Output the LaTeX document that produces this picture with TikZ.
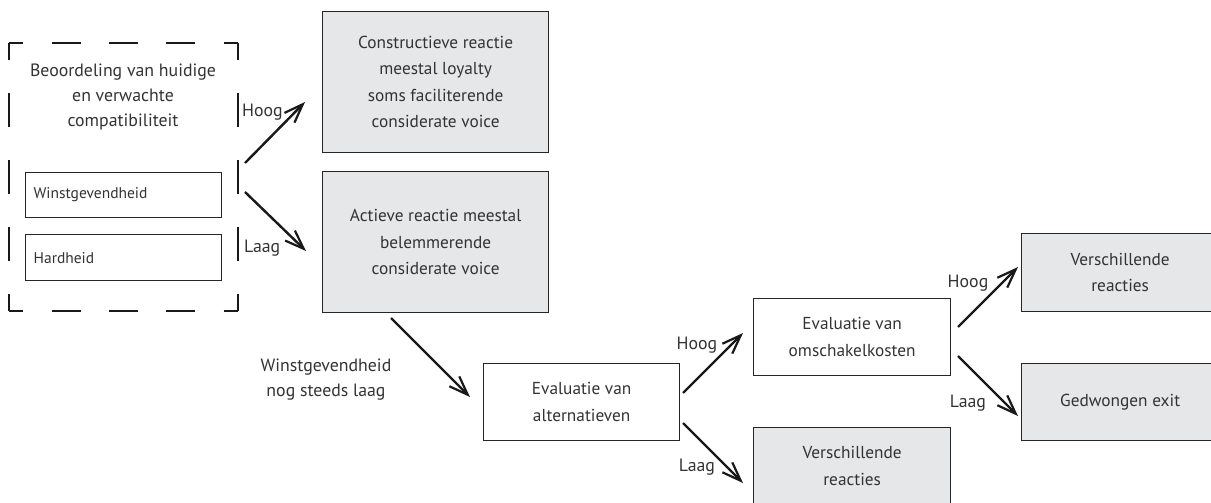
\documentclass[tikz,border=0pt]{standalone}
\usepackage{fontspec}
\setmainfont{PT Sans}
\usetikzlibrary{arrows.meta}
\definecolor{boxgray}{HTML}{E6E7E8}
\definecolor{txt}{HTML}{333333}
\tikzset{
  every node/.style={text=txt},
  base/.style={draw=black!85, line width=1.3pt, inner sep=0pt, anchor=north west, align=center,
     font=\fontsize{17.3}{26.5}\selectfont},
  graybox/.style={base, fill=boxgray},
  whitebox/.style={base, fill=white},
  smallbox/.style={draw=black!85, line width=1.3pt, inner sep=0pt, anchor=north west, fill=white,
     font=\fontsize{15.5}{16}\selectfont},
  lbl/.style={font=\fontsize{17.8}{25}\selectfont, inner sep=0pt},
  arr/.style={line width=2.4pt, draw=black!90, -{Straight Barb[length=19pt,width=14pt,line width=2.2pt]}},
  dashside/.style={line width=2.8pt, draw=black!90},
}
\begin{document}
\begin{tikzpicture}[x=1pt,y=-1pt]
\useasboundingbox (0,0) rectangle (1211,503);
% dashed frame
\draw[dashside, dash pattern=on 28.625pt off 28.625pt, dash phase=14.3125pt] (9,43) -- (238,43);
\draw[dashside, dash pattern=on 28.625pt off 28.625pt, dash phase=14.3125pt] (9,311) -- (238,311);
\draw[dashside, dash pattern=on 33.5pt off 33.5pt, dash phase=16.75pt] (9,43) -- (9,311);
\draw[dashside, dash pattern=on 33.5pt off 33.5pt, dash phase=16.75pt] (238,43) -- (238,311);
\node[lbl, align=center] (title) at (123,97) {Beoordeling van huidige\\en verwachte\\compatibiliteit};
\node[smallbox, minimum width=196pt, minimum height=45pt, text width=180pt, align=left] (winst) at (25,172) {Winstgevendheid};
\node[smallbox, minimum width=196pt, minimum height=46pt, text width=180pt, align=left] (hard) at (25,234) {Hardheid};
% right column boxes
\node[graybox, minimum width=226pt, minimum height=141pt] (constr) at (322,11) {Constructieve reactie\\meestal loyalty\\soms faciliterende\\considerate voice};
\node[graybox, minimum width=226pt, minimum height=141pt] (actief) at (322,171) {Actieve reactie meestal\\belemmerende\\considerate voice};
\node[whitebox, minimum width=196pt, minimum height=77pt] (evalt) at (483,363) {Evaluatie van\\alternatieven};
\node[whitebox, minimum width=197pt, minimum height=77pt] (omsch) at (753,298) {Evaluatie van\\omschakelkosten};
\node[graybox, minimum width=197pt, minimum height=77pt] (versch1) at (753,427) {Verschillende\\reacties};
\node[graybox, minimum width=197pt, minimum height=78pt] (versch2) at (1021,233) {Verschillende\\reacties};
\node[graybox, minimum width=197pt, minimum height=77pt] (exit) at (1021,363) {Gedwongen exit};
% arrow anchor coordinates
\coordinate (a1s) at (245,163); \coordinate (a1e) at (305,102);
\coordinate (a2s) at (245,192); \coordinate (a2e) at (306,251);
\coordinate (a3s) at (391,318); \coordinate (a3e) at (470,397);
\coordinate (a4s) at (683,393); \coordinate (a4e) at (743,333);
\coordinate (a5s) at (683,423); \coordinate (a5e) at (743,483);
\coordinate (a6s) at (958,327); \coordinate (a6e) at (1018,267);
\coordinate (a7s) at (958,356); \coordinate (a7e) at (1018,416);
\draw[arr] (a1s) -- (a1e);
\draw[arr] (a2s) -- (a2e);
\draw[arr] (a3s) -- (a3e);
\draw[arr] (a4s) -- (a4e);
\draw[arr] (a5s) -- (a5e);
\draw[arr] (a6s) -- (a6e);
\draw[arr] (a7s) -- (a7e);
% labels
\node[lbl, anchor=west] (h1) at (242,112) {Hoog};
\node[lbl, anchor=west] (l1) at (244,248) {Laag};
\node[lbl, align=center] (wl) at (326,380) {Winstgevendheid\\nog steeds laag};
\node[lbl] (h2) at (697,345) {Hoog};
\node[lbl] (l2) at (697,467) {Laag};
\node[lbl] (h3) at (968,283) {Hoog};
\node[lbl] (l3) at (968,403) {Laag};
\end{tikzpicture}
\end{document}
